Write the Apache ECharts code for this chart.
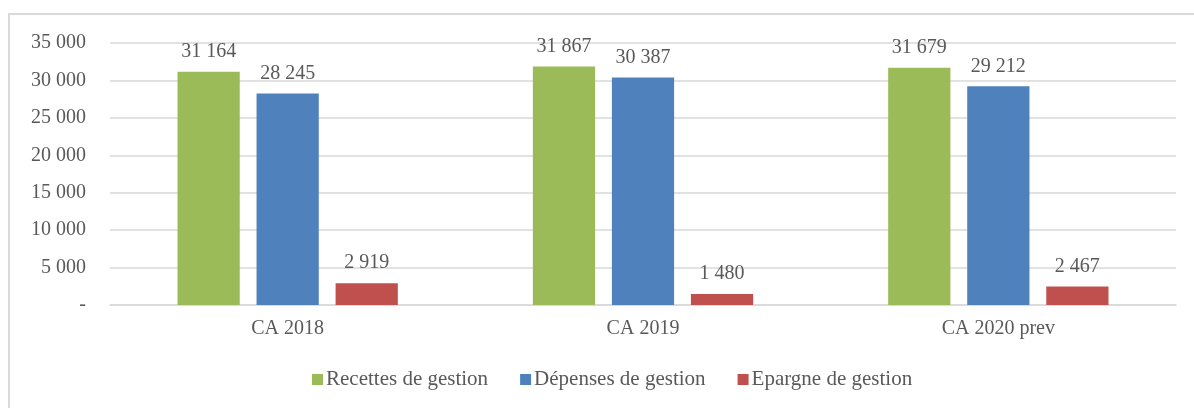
<!DOCTYPE html>
<html>
<head>
<meta charset="utf-8">
<script src="https://cdn.jsdelivr.net/npm/echarts@6/dist/echarts.min.js"></script>
<style>
  html, body { margin: 0; padding: 0; background: #fff; }
  #chart { width: 1194px; height: 408px; }
</style>
</head>
<body>
<div id="chart"></div>
<script>
// Budget de fonctionnement : recettes, dépenses et épargne de gestion
const categories = ['CA 2018', 'CA 2019', 'CA 2020 prev'];
const recettes = [31164, 31867, 31679];
const depenses = [28245, 30387, 29212];
const epargne = [2919, 1480, 2467];

const FONT = '"Liberation Serif", "DejaVu Serif", serif';
const TEXT = '#595959';

// French-style thousands separator; zero shown as a dash
function fmt(v) {
  if (v === 0) return '-';
  return String(Math.round(v)).replace(/\B(?=(\d{3})+(?!\d))/g, ' ');
}

const labelStyle = {
  show: true,
  position: 'top',
  distance: 10,
  color: TEXT,
  fontFamily: FONT,
  fontSize: 20,
  formatter: p => fmt(p.value)
};

function bar(name, data, color) {
  return {
    name: name,
    type: 'bar',
    data: data,
    itemStyle: { color: color },
    label: labelStyle,
    barGap: '27%',
    barCategoryGap: '38%'
  };
}

const chart = echarts.init(document.getElementById('chart'), null, { renderer: 'canvas' });
chart.setOption({
  animation: false,
  textStyle: { fontFamily: FONT, color: TEXT },
  graphic: [{
    type: 'rect',
    shape: { x: 9, y: 14, width: 1200, height: 420 },
    style: { fill: 'none', stroke: '#d9d9d9', lineWidth: 2 },
    silent: true
  }],
  grid: { left: 110, right: 18, top: 43, bottom: 103 },
  legend: {
    bottom: 13,
    left: 307,
    itemWidth: 11,
    itemHeight: 11,
    itemGap: 32,
    icon: 'rect',
    textStyle: { fontFamily: FONT, fontSize: 21, color: TEXT, padding: [0, 0, 0, -2] },
    data: ['Recettes de gestion', 'Dépenses de gestion', 'Epargne de gestion']
  },
  xAxis: {
    type: 'category',
    data: categories,
    axisLine: { lineStyle: { color: '#d9d9d9', width: 1.5 } },
    axisTick: { show: false },
    axisLabel: { color: TEXT, fontFamily: FONT, fontSize: 20, margin: 14 }
  },
  yAxis: {
    type: 'value',
    min: 0,
    max: 35000,
    interval: 5000,
    axisLine: { show: false },
    axisTick: { show: false },
    splitLine: { lineStyle: { color: '#d9d9d9', width: 1.5 } },
    axisLabel: { color: TEXT, fontFamily: FONT, fontSize: 20, margin: 24, formatter: fmt }
  },
  series: [
    bar('Recettes de gestion', recettes, '#9bbb59'),
    bar('Dépenses de gestion', depenses, '#4f81bd'),
    bar('Epargne de gestion', epargne, '#c0504d')
  ]
});
</script>
</body>
</html>
